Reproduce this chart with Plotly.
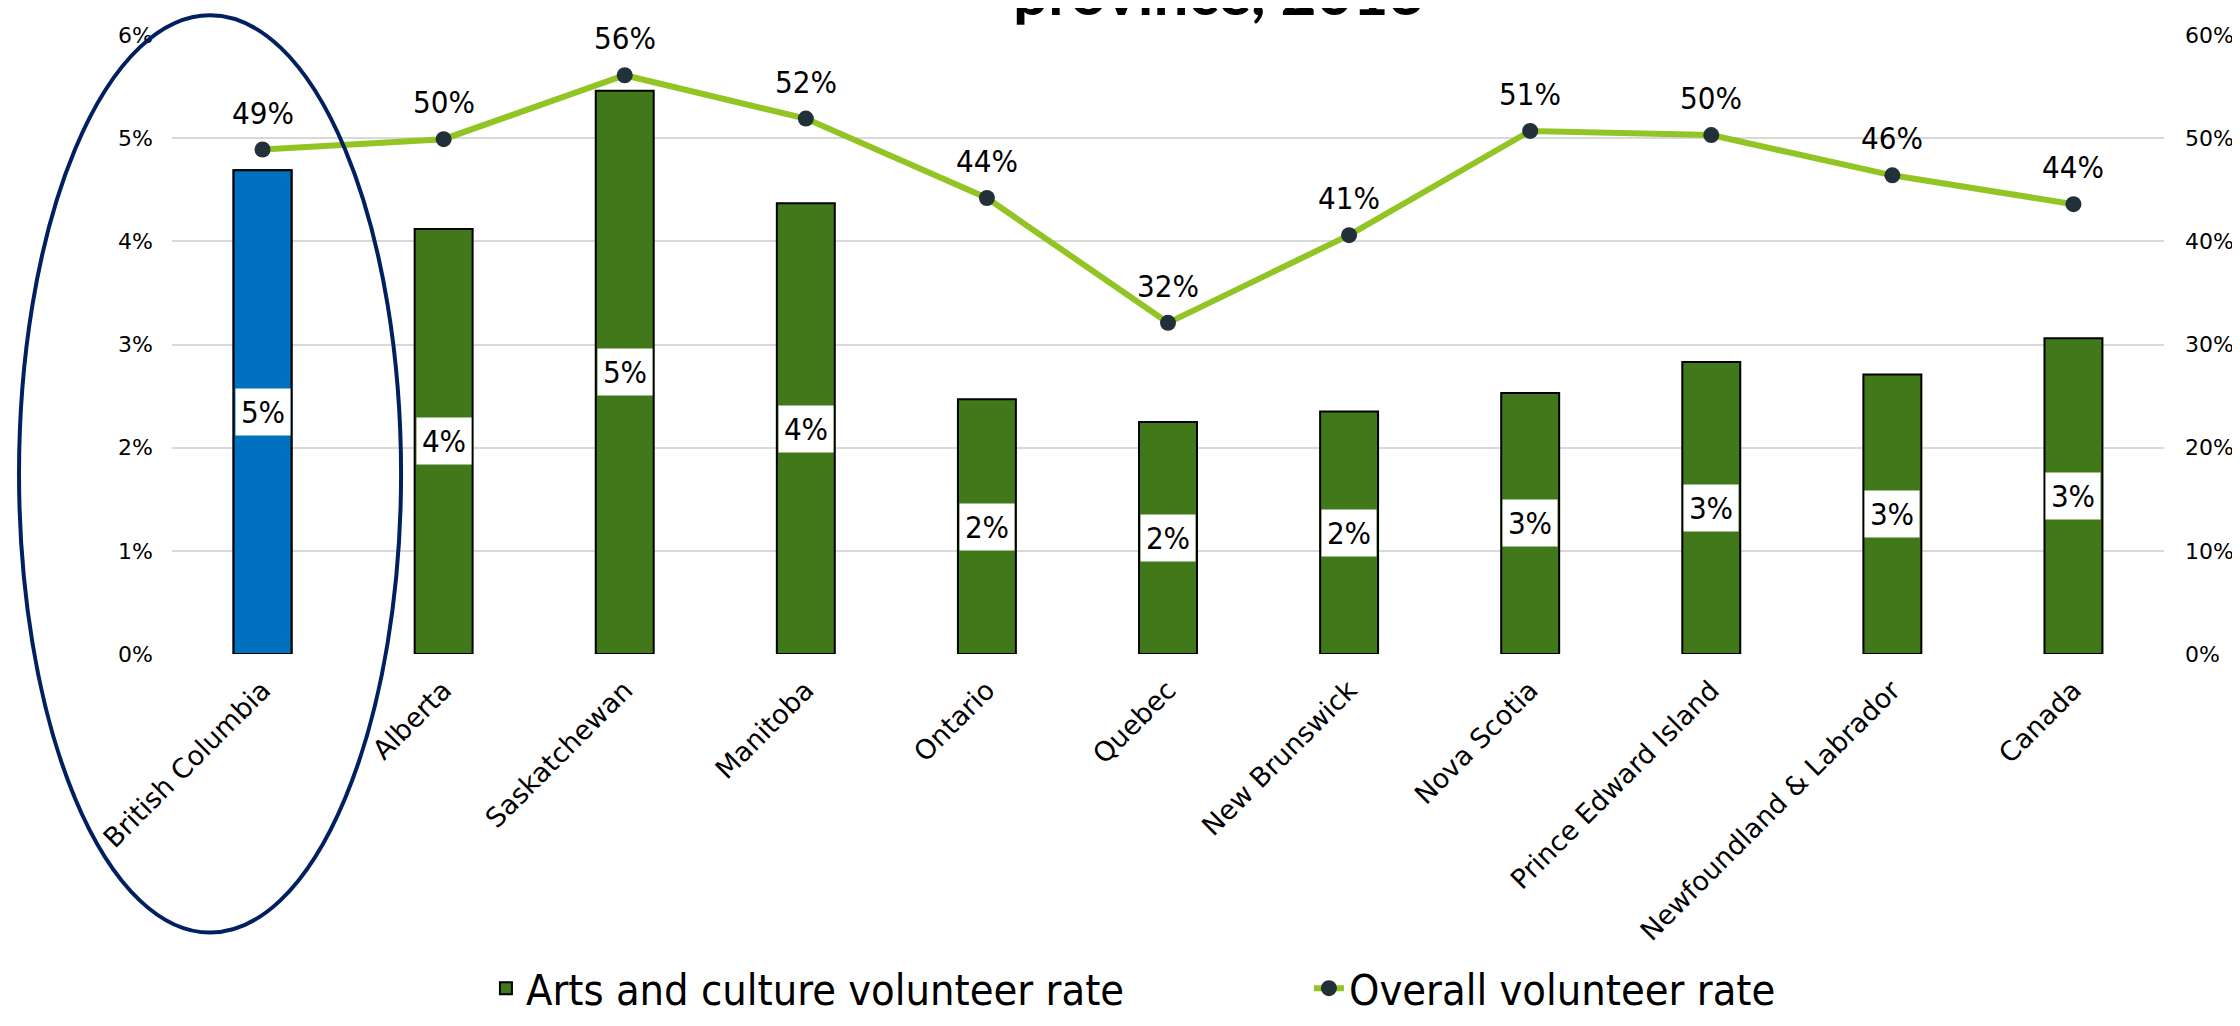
import plotly.graph_objects as go

categories = ["British Columbia", "Alberta", "Saskatchewan", "Manitoba", "Ontario", "Quebec",
              "New Brunswick", "Nova Scotia", "Prince Edward Island", "Newfoundland & Labrador", "Canada"]
arts_rate = [4.69, 4.12, 5.46, 4.37, 2.47, 2.25, 2.35, 2.53, 2.83, 2.71, 3.06]
overall_rate = [48.9, 49.9, 56.1, 51.9, 44.2, 32.1, 40.6, 50.7, 50.3, 46.4, 43.6]
highlight = ["British Columbia"]
left_ticks = [0, 1, 2, 3, 4, 5, 6]
right_ticks = [0, 10, 20, 30, 40, 50, 60]
title_text = "province, 2013"

GREEN = "#40781A"
BLUE = "#0070C0"
LINE = "#92C423"
MARK = "#22303A"
NARROW = "Liberation Sans Narrow, DejaVu Sans Condensed, Arial Narrow, sans-serif"
TICKFONT = "DejaVu Sans, Verdana, sans-serif"

hl_values = [v for c, v in zip(categories, arts_rate) if c in highlight]

fig = go.Figure()
fig.add_trace(go.Bar(
    x=categories, y=arts_rate, name="Arts and culture volunteer rate",
    marker=dict(color=GREEN, line=dict(color="black", width=2)),
    width=0.32, yaxis="y",
))
fig.add_trace(go.Bar(
    x=highlight, y=hl_values, name="highlight", showlegend=False,
    marker=dict(color=BLUE, line=dict(color="black", width=2)),
    width=0.32, yaxis="y",
))
fig.add_trace(go.Scatter(
    x=categories, y=overall_rate, name="Overall volunteer rate",
    mode="lines+markers", yaxis="y2",
    line=dict(color=LINE, width=6),
    marker=dict(color=MARK, size=16),
))

annotations = []
for c, v in zip(categories, arts_rate):
    annotations.append(dict(
        x=c, y=v / 2, xref="x", yref="y", text=f"{v:.0f}%", showarrow=False,
        bgcolor="white", width=54, height=46, borderpad=0,
        font=dict(family=NARROW, size=31, color="black"),
    ))
for c, v in zip(categories, overall_rate):
    annotations.append(dict(
        x=c, y=v, xref="x", yref="y2", text=f"{v:.0f}%", showarrow=False,
        yanchor="middle", yshift=37,
        font=dict(family=NARROW, size=31, color="black"),
    ))
annotations.append(dict(
    x=0.5256, y=1.0103, xref="paper", yref="paper", text="<b>" + title_text + "</b>",
    showarrow=False, xanchor="center", yanchor="bottom", borderpad=0,
    font=dict(family="Lato, Open Sans, sans-serif", size=62, color="black"),
))

fig.update_layout(
    width=2240, height=1026,
    margin=dict(l=164, r=84, t=27, b=365),
    paper_bgcolor="white", plot_bgcolor="white",
    barmode="overlay",
    showlegend=True,
    legend=dict(orientation="h", x=0.1576, xanchor="left", y=-0.54, yanchor="middle",
                font=dict(family=NARROW, size=43, color="black"),
                entrywidth=778, entrywidthmode="pixels", traceorder="normal"),
    xaxis=dict(tickangle=-45, tickfont=dict(family=TICKFONT, size=27, color="black"),
               showgrid=False, showline=False, ticks="", ticklabelstandoff=14,
               automargin=False, range=[-0.5, len(categories) - 0.5]),
    yaxis=dict(range=[0, 6], tickvals=left_ticks, ticktext=[f"{t}%" for t in left_ticks],
               showgrid=True, gridcolor="#D9D9D9", gridwidth=1.5, zeroline=False,
               tickfont=dict(family=TICKFONT, size=22, color="black"), ticklabelstandoff=18,
               showline=False, automargin=False),
    yaxis2=dict(range=[0, 60], tickvals=right_ticks, ticktext=[f"{t}%" for t in right_ticks],
                overlaying="y", side="right", showgrid=False, zeroline=False,
                tickfont=dict(family=TICKFONT, size=22, color="black"), ticklabelstandoff=20,
                automargin=False),
    annotations=annotations,
    shapes=[dict(type="circle", xref="paper", yref="paper",
                 x0=-0.0768, x1=0.115, y0=-0.45, y1=1.032,
                 line=dict(color="#002060", width=4), layer="above")],
)

fig.write_html("out.html")
